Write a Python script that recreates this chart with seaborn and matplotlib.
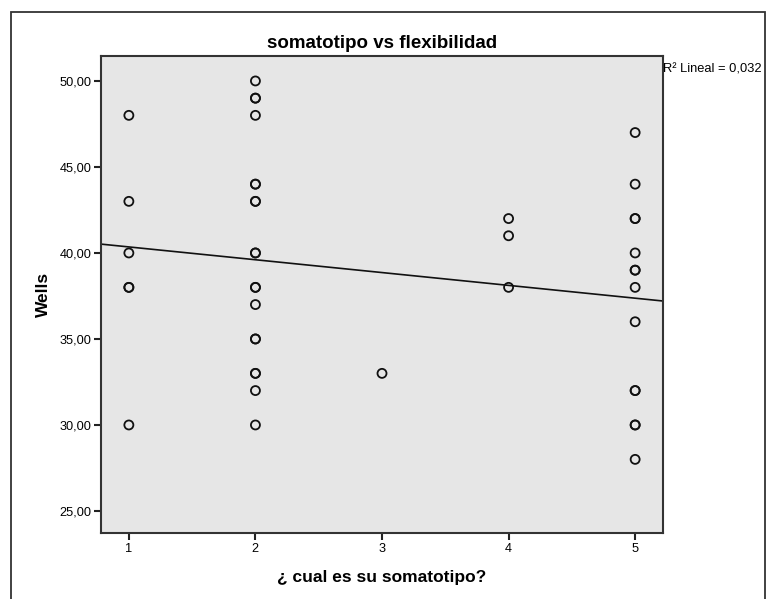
# =========================================
# Diagrama de dispersión: somatotipo vs flexibilidad
# =========================================

import matplotlib
matplotlib.use("Agg")
import matplotlib.pyplot as plt
from matplotlib.patches import Rectangle
from matplotlib.ticker import FuncFormatter
import seaborn as sns
import numpy as np
import pandas as pd

# -----------------------------------------
# Datos
# -----------------------------------------
somatotipo = [1, 1, 1, 1, 1, 1,
              2, 2, 2, 2, 2, 2, 2, 2, 2, 2, 2, 2, 2, 2, 2, 2, 2, 2, 2,
              3,
              4, 4, 4,
              5, 5, 5, 5, 5, 5, 5, 5, 5, 5, 5, 5, 5, 5]
wells = [48, 43, 40, 38, 38, 30,
         50, 49, 49, 48, 44, 44, 43, 43, 40, 40, 38, 38, 37, 35, 35, 33, 33, 32, 30,
         33,
         42, 41, 38,
         47, 44, 42, 42, 40, 39, 39, 38, 36, 32, 32, 30, 30, 28]
ticks_x = [1, 2, 3, 4, 5]
ticks_y = [25, 30, 35, 40, 45, 50]
texto_r2 = "R² Lineal = 0,032"

datos = pd.DataFrame({"somatotipo": somatotipo, "wells": wells})

# -----------------------------------------
# Estilo
# -----------------------------------------
sns.set_style("white")
plt.rcParams["font.family"] = ["Liberation Sans", "DejaVu Sans"]
plt.rcParams["text.color"] = "black"
plt.rcParams["axes.labelcolor"] = "black"
plt.rcParams["xtick.color"] = "black"
plt.rcParams["ytick.color"] = "black"

fig = plt.figure(figsize=(7.67, 5.99), dpi=100)
ax = fig.add_axes([0.1317, 0.1102, 0.7327, 0.7963])
ax.set_facecolor("#e6e6e6")

ax.set_xlim(0.78, 5.22)
ax.set_ylim(23.72, 51.45)

# -----------------------------------------
# Puntos y recta de regresión
# -----------------------------------------
sns.scatterplot(data=datos, x="somatotipo", y="wells", ax=ax,
                marker="o", s=42, facecolor="none", edgecolor="#111111",
                linewidth=1.3, zorder=3)
sns.regplot(data=datos, x="somatotipo", y="wells", ax=ax, scatter=False,
            ci=None, truncate=False, color="#111111",
            line_kws={"linewidth": 1.2, "zorder": 2})

ax.set_xlim(0.78, 5.22)
ax.set_ylim(23.72, 51.45)

# -----------------------------------------
# Ejes y textos
# -----------------------------------------
ax.set_xticks(ticks_x)
ax.set_yticks(ticks_y)
ax.yaxis.set_major_formatter(FuncFormatter(lambda v, p: f"{v:.2f}".replace(".", ",")))
ax.tick_params(direction="out", length=5, width=1.5, color="#222222",
               labelsize=9.2, pad=2, left=True, bottom=True)
for lado in ax.spines.values():
    lado.set_color("#333333")
    lado.set_linewidth(1.5)

ax.set_title("somatotipo vs flexibilidad", fontsize=13.5, fontweight="bold", pad=6)
ax.set_xlabel("¿ cual es su somatotipo?", fontsize=12.5, fontweight="bold", labelpad=11)
ax.set_ylabel("Wells", fontsize=12.5, fontweight="bold", labelpad=6)

ax.text(1.0, 0.985, texto_r2, transform=ax.transAxes, fontsize=9.3,
        ha="left", va="top")

# marco exterior
fig.add_artist(Rectangle((10.5 / 767, -0.01), 754.5 / 767, 1 - 12 / 599 + 0.01,
                         transform=fig.transFigure, fill=False,
                         edgecolor="#333333", linewidth=1.3))

plt.savefig("out.png", dpi=100)
